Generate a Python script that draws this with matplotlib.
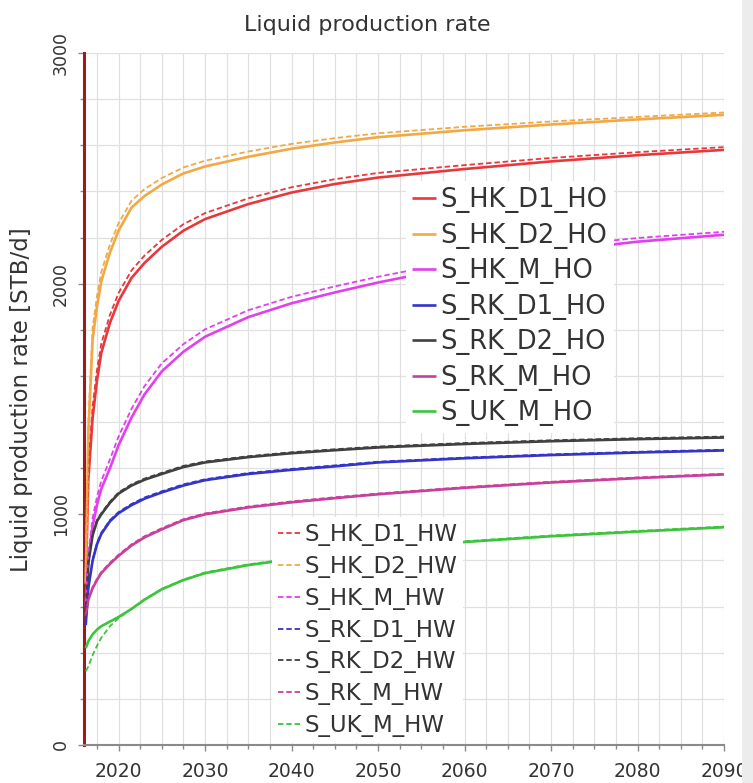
import matplotlib
matplotlib.use("Agg")
import matplotlib.pyplot as plt
from matplotlib.ticker import MultipleLocator
from matplotlib.patches import Rectangle

# Sample times (years) shared by every series
years = [2016.2, 2016.5, 2017, 2017.5, 2018, 2019, 2020, 2021.5, 2023, 2025,
         2027.5, 2030, 2035, 2040, 2045, 2050, 2060, 2070, 2080, 2090]

# Liquid production rate [STB/d], HO cases
S_HK_D1_HO = [700, 1150, 1420, 1580, 1700, 1830, 1925, 2025, 2090, 2160,
              2230, 2280, 2345, 2395, 2432, 2460, 2497, 2530, 2557, 2580]
S_HK_D2_HO = [700, 1350, 1760, 1900, 2010, 2135, 2230, 2330, 2380, 2430,
              2478, 2508, 2550, 2585, 2612, 2635, 2665, 2690, 2712, 2732]
S_HK_M_HO = [600, 800, 950, 1040, 1110, 1200, 1300, 1420, 1520, 1620,
             1705, 1770, 1855, 1915, 1962, 2005, 2080, 2140, 2182, 2212]
S_RK_D1_HO = [520, 680, 800, 870, 915, 970, 1005, 1040, 1068, 1095,
              1125, 1148, 1175, 1193, 1208, 1225, 1243, 1257, 1268, 1277]
S_RK_D2_HO = [560, 790, 910, 970, 1000, 1050, 1090, 1125, 1150, 1175,
              1205, 1225, 1248, 1265, 1278, 1290, 1305, 1317, 1326, 1333]
S_RK_M_HO = [560, 630, 680, 715, 745, 785, 820, 865, 900, 935,
             975, 1000, 1030, 1052, 1070, 1087, 1115, 1138, 1157, 1173]
S_UK_M_HO = [420, 450, 480, 500, 515, 535, 555, 590, 630, 675,
             715, 745, 780, 805, 830, 848, 880, 905, 925, 944]

# Liquid production rate [STB/d], HW cases
S_HK_D1_HW = [750, 1200, 1470, 1625, 1740, 1865, 1960, 2058, 2122, 2190,
              2258, 2306, 2370, 2418, 2453, 2480, 2514, 2545, 2570, 2592]
S_HK_D2_HW = [750, 1400, 1810, 1945, 2050, 2170, 2262, 2360, 2410, 2458,
              2504, 2533, 2573, 2606, 2631, 2652, 2680, 2703, 2723, 2742]
S_HK_M_HW = [620, 830, 985, 1075, 1145, 1238, 1338, 1458, 1556, 1655,
             1738, 1802, 1885, 1943, 1988, 2030, 2103, 2160, 2198, 2225]
S_RK_D1_HW = [525, 685, 805, 875, 920, 975, 1010, 1045, 1073, 1100,
              1130, 1152, 1179, 1197, 1212, 1228, 1246, 1260, 1271, 1280]
S_RK_D2_HW = [565, 795, 915, 975, 1005, 1055, 1095, 1130, 1155, 1180,
              1210, 1229, 1252, 1269, 1282, 1294, 1309, 1321, 1330, 1337]
S_RK_M_HW = [565, 635, 685, 720, 750, 790, 825, 870, 905, 940,
             979, 1004, 1034, 1056, 1074, 1090, 1118, 1141, 1160, 1176]
S_UK_M_HW = [320, 340, 390, 430, 465, 515, 550, 590, 632, 677,
             717, 748, 783, 808, 833, 851, 883, 908, 928, 947]

ho_labels = ["S_HK_D1_HO", "S_HK_D2_HO", "S_HK_M_HO", "S_RK_D1_HO",
             "S_RK_D2_HO", "S_RK_M_HO", "S_UK_M_HO"]
hw_labels = ["S_HK_D1_HW", "S_HK_D2_HW", "S_HK_M_HW", "S_RK_D1_HW",
             "S_RK_D2_HW", "S_RK_M_HW", "S_UK_M_HW"]
ho_series = [S_HK_D1_HO, S_HK_D2_HO, S_HK_M_HO, S_RK_D1_HO,
             S_RK_D2_HO, S_RK_M_HO, S_UK_M_HO]
hw_series = [S_HK_D1_HW, S_HK_D2_HW, S_HK_M_HW, S_RK_D1_HW,
             S_RK_D2_HW, S_RK_M_HW, S_UK_M_HW]
colors = ["#e8383c", "#f2a844", "#e040ee", "#3434c8",
          "#404040", "#c8409c", "#3cc43c"]

W, H = 753, 783
fig = plt.figure(figsize=(W / 100, H / 100), dpi=100)
ax = fig.add_axes([84 / W, 1 - 745 / H, (724 - 84) / W, (745 - 53) / H])

ho_lines, hw_lines = [], []
for vals, c in zip(ho_series, colors):
    ln, = ax.plot(years, vals, color=c, lw=1.9, solid_capstyle="butt", zorder=3)
    ho_lines.append(ln)
for vals, c in zip(hw_series, colors):
    ln, = ax.plot(years, vals, color=c, lw=1.3, ls=(0, (3, 1.6)), zorder=4)
    hw_lines.append(ln)

ax.set_xlim(2016, 2090)
ax.set_ylim(0, 3000)
ax.xaxis.set_major_locator(MultipleLocator(10))
ax.xaxis.set_minor_locator(MultipleLocator(2.5))
ax.yaxis.set_major_locator(MultipleLocator(1000))
ax.yaxis.set_minor_locator(MultipleLocator(200))
ax.grid(which="both", color="#e0e0e0", lw=0.9)
ax.set_axisbelow(True)

for s in ("top", "right"):
    ax.spines[s].set_visible(False)
ax.spines["left"].set_color("#9a1c1c")
ax.spines["left"].set_linewidth(2.2)
ax.spines["bottom"].set_color("#8a8a8a")
ax.spines["bottom"].set_linewidth(1.5)

ax.tick_params(axis="x", which="major", length=4, width=1, color="#8a8a8a",
               labelsize=13.5, pad=8, labelcolor="#333333")
ax.tick_params(axis="x", which="minor", length=3, width=1, color="#8a8a8a")
ax.tick_params(axis="y", which="major", length=4, width=1, color="#8a8a8a",
               labelsize=12.5, pad=6, labelcolor="#333333", labelrotation=90)
ax.tick_params(axis="y", which="minor", length=3, width=1, color="#8a8a8a")
for lab in ax.get_yticklabels():
    lab.set_va("center")

fig.text(22 / W, 1 - 400 / H, "Liquid production rate [STB/d]", fontsize=16.5,
         rotation=90, ha="center", va="center", color="#333333")
fig.text(367 / W, 1 - 25 / H, "Liquid production rate", fontsize=16,
         ha="center", va="center", color="#333333")

leg1 = ax.legend(ho_lines, ho_labels, loc="upper left",
                 bbox_to_anchor=(406 / W, 1 - 181 / H),
                 bbox_transform=fig.transFigure, borderaxespad=0,
                 fontsize=18.5, handlelength=0.9, handletextpad=0.2,
                 labelspacing=0.37, borderpad=0.25, frameon=True,
                 fancybox=False, framealpha=1, facecolor="white",
                 edgecolor="none")
for t in leg1.get_texts():
    t.set_color("#333333")
ax.add_artist(leg1)
leg2 = ax.legend(hw_lines, hw_labels, loc="upper left",
                 bbox_to_anchor=(272 / W, 1 - 517 / H),
                 bbox_transform=fig.transFigure, borderaxespad=0,
                 fontsize=16.5, handlelength=1.0, handletextpad=0.15,
                 labelspacing=0.39, borderpad=0.25, frameon=True,
                 fancybox=False, framealpha=1, facecolor="white",
                 edgecolor="none")
for t in leg2.get_texts():
    t.set_color("#333333")
leg1.set_zorder(6)
leg2.set_zorder(6)

# light strip along the right edge of the figure
fig.patches.append(Rectangle((742 / W, 0), 11 / W, 1, transform=fig.transFigure,
                             facecolor="#ececec", edgecolor="none", zorder=10))

fig.savefig("out.png", dpi=100)
